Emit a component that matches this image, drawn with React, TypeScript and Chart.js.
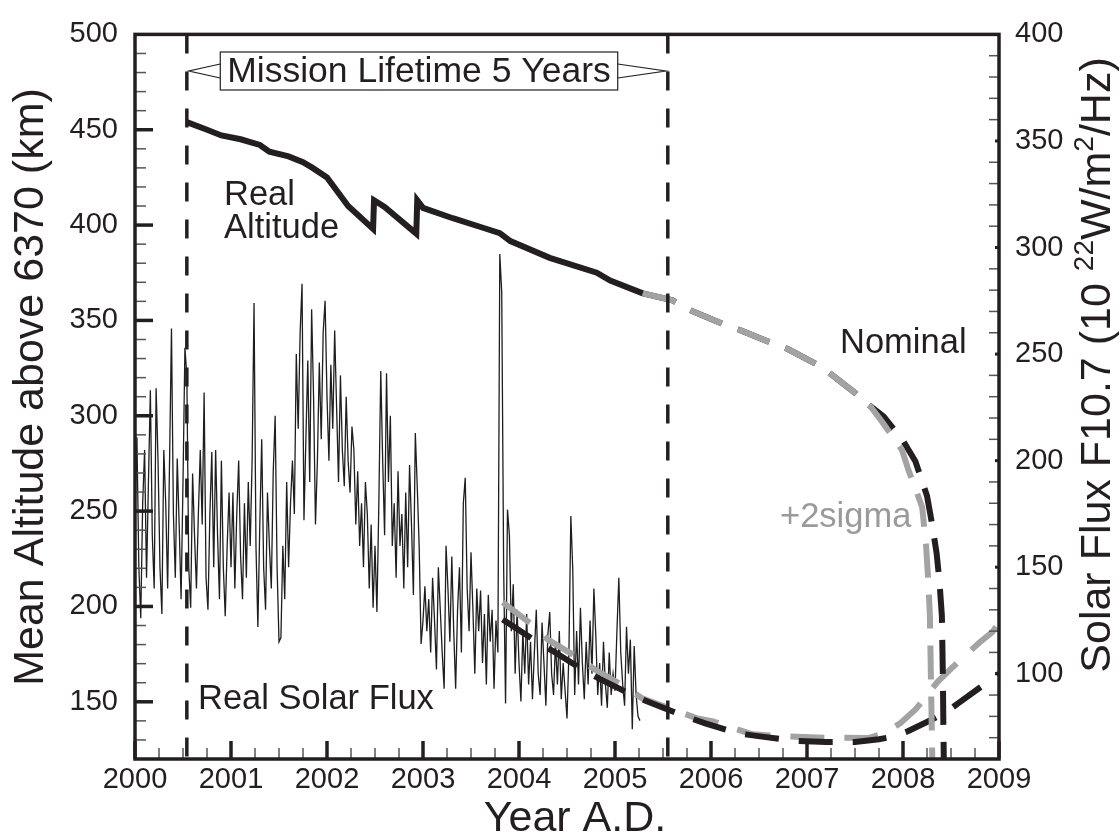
import React, { useEffect, useRef } from 'react';
import { Chart, registerables } from 'chart.js';

Chart.register(...registerables);

const FAMILY = '"Liberation Sans", Arial, Helvetica, sans-serif';
const INK = '#231f20';
const GRAY = '#a3a3a3';
const GRAY_TEXT = '#9a9a9a';

// Axis ticks
const X_TICKS = [2000, 2001, 2002, 2003, 2004, 2005, 2006, 2007, 2008, 2009];
const LEFT_TICKS = [150, 200, 250, 300, 350, 400, 450, 500];
const RIGHT_TICKS = [100, 150, 200, 250, 300, 350, 400];

// Mission lifetime boundaries (year)
const MISSION_YEARS = [2000.54, 2005.55];

// Real solar flux F10.7, sampled every 0.02 year from 2000.00
const FLUX_START = 2000.0;
const FLUX_STEP = 0.02;
const FLUX_VALUES = [
  // 2000
  175, 211, 150, 126, 180, 205, 145, 190, 233, 165,
  140, 234, 200, 150, 128, 205, 180, 140, 200, 262,
  175, 145, 201, 170, 135, 190, 253, 240, 150, 131,
  194, 165, 140, 175, 205, 170, 232, 145, 130, 175,
  204, 150, 205, 165, 135, 200, 150, 127, 160, 185,
  // 2001
  150, 185, 140, 175, 200, 155, 135, 180, 145, 190,
  160, 200, 274, 160, 122, 170, 210, 150, 130, 185,
  160, 140, 195, 221, 150, 115, 117, 160, 135, 190,
  150, 180, 200, 175, 250, 215, 260, 283, 172, 210,
  247, 190, 271, 230, 170, 200, 246, 210, 260, 275,
  // 2002
  230, 200, 245, 215, 261, 225, 190, 240, 205, 188,
  230, 200, 185, 216, 205, 170, 195, 160, 180, 150,
  190, 175, 140, 170, 131, 160, 129, 180, 242, 200,
  165, 241, 190, 221, 160, 180, 145, 195, 160, 175,
  140, 185, 150, 198, 170, 137, 213, 188, 160, 114,
  // 2003
  125, 141, 120, 135, 110, 145, 125, 102, 150, 130,
  110, 93, 160, 140, 115, 155, 120, 93, 130, 150,
  110, 180, 192, 140, 120, 157, 130, 100, 140, 120,
  139, 105, 128, 95, 137, 115, 130, 93, 125, 110,
  297, 279, 150, 86, 177, 165, 120, 142, 100, 130,
  // 2004
  105, 87, 120, 100, 128, 95, 115, 88, 110, 130,
  100, 90, 124, 105, 85, 118, 129, 100, 90, 115,
  95, 120, 88, 105, 92, 79, 110, 174, 149, 90,
  120, 95, 131, 105, 88, 115, 95, 125, 100, 140,
  118, 90, 105, 85, 115, 95, 84, 110, 90, 100,
  // 2005
  92, 120, 145, 110, 95, 85, 122, 100, 116, 74, 113, 90, 80, 78,
];

// Real altitude (km above 6370)
const ALT_YEARS = [
  2000.54, 2000.75, 2000.9, 2001.1, 2001.3, 2001.4, 2001.6, 2001.75, 2001.85, 2002.0,
  2002.22, 2002.48, 2002.49, 2002.6, 2002.93, 2002.94, 2003.0, 2003.31, 2003.6, 2003.8,
  2003.91, 2004.32, 2004.81, 2004.95, 2005.29,
];
const ALT_VALUES = [
  454, 450, 447, 445, 442, 438.5, 436, 433, 430, 425,
  410, 398, 413, 409.5, 395.5, 413, 409, 403.6, 399, 395.8,
  391.6, 382.8, 375, 370.9, 364.2,
];

// Predicted altitude, nominal
const ALT_NOM_YEARS = [
  2005.29, 2005.6, 2005.8, 2006.13, 2006.3, 2006.64, 2006.8, 2007.14, 2007.27, 2007.5,
  2007.66, 2007.8, 2008.0, 2008.13, 2008.25, 2008.3, 2008.35, 2008.38, 2008.405, 2008.415,
  2008.42, 2008.425,
];
const ALT_NOM_VALUES = [
  364.2, 360.5, 355, 348, 345, 338, 335, 326, 321, 312,
  305, 299.5, 287, 276, 258, 244, 228, 213, 195, 165,
  140, 120,
];

// Predicted altitude, +2 sigma
const ALT_2S_YEARS = [
  2005.29, 2005.6, 2005.8, 2006.13, 2006.3, 2006.64, 2006.8, 2007.14, 2007.27, 2007.5,
  2007.66, 2007.78, 2007.99, 2008.06, 2008.15, 2008.2, 2008.24, 2008.265, 2008.28, 2008.29,
  2008.3, 2008.305,
];
const ALT_2S_VALUES = [
  364.2, 360.5, 355, 348, 345, 338, 335, 326, 321, 312,
  305, 297, 282, 271, 259, 252, 232, 212, 195, 165,
  135, 120,
];

// Predicted solar flux, nominal
const FLUX_NOM_YEARS = [
  2003.83, 2004.15, 2004.34, 2004.66, 2004.84, 2005.18, 2005.39, 2005.73, 2005.94, 2006.28,
  2006.53, 2006.88, 2007.2, 2007.5, 2007.75, 2007.9, 2008.05, 2008.26, 2008.45, 2008.57,
  2008.77, 2009.0,
];
const FLUX_NOM_VALUES = [
  125.5, 116, 111, 102, 97.6, 90, 86, 80, 76.7, 72,
  70.5, 68.5, 68, 68, 69.3, 70.5, 73, 77.6, 82, 86,
  92.5, 100,
];

// Predicted solar flux, +2 sigma
const FLUX_2S_YEARS = [
  2003.83, 2004.14, 2004.3, 2004.6, 2004.79, 2005.1, 2005.29, 2005.57, 2005.86, 2006.02,
  2006.43, 2006.79, 2007.2, 2007.64, 2007.8, 2007.97, 2008.13, 2008.36, 2008.52, 2008.8,
  2008.93, 2009.0,
];
const FLUX_2S_VALUES = [
  133.5, 123, 116, 108, 102, 94, 88.3, 83.7, 79, 77.6,
  71.6, 70.6, 70, 69.8, 72, 76.7, 83.2, 96.2, 103.2, 114.8,
  119.5, 124,
];

const pts = (xs: number[], ys: number[]) => xs.map((x, i) => ({ x, y: ys[i] }));

const decorPlugin = {
  id: 'decor',
  afterDatasetsDraw(chart: any) {
    const ctx = chart.ctx as CanvasRenderingContext2D;
    const a = chart.chartArea;
    const xs = chart.scales.x;
    const yl = chart.scales.yL;
    const yr = chart.scales.yR;
    ctx.save();
    ctx.lineCap = 'butt';

    // bottom axis ticks (every quarter year, major each year)
    for (let i = 0; i <= 36; i++) {
      const v = 2000 + i * 0.25;
      const px = xs.getPixelForValue(v);
      const major = i % 4 === 0;
      ctx.strokeStyle = major ? INK : '#555';
      ctx.lineWidth = major ? 3.5 : 1.5;
      ctx.beginPath();
      ctx.moveTo(px, a.bottom);
      ctx.lineTo(px, a.bottom - (major ? 18 : 11));
      ctx.stroke();
    }
    // left axis ticks (every 10 km)
    for (let v = 130; v <= 490; v += 10) {
      const py = yl.getPixelForValue(v);
      const major = v % 50 === 0;
      ctx.strokeStyle = major ? INK : '#555';
      ctx.lineWidth = major ? 3.5 : 1.5;
      ctx.beginPath();
      ctx.moveTo(a.left, py);
      ctx.lineTo(a.left + (major ? 18 : 11), py);
      ctx.stroke();
    }
    // right axis ticks (every 10 flux units)
    for (let v = 70; v <= 390; v += 10) {
      const py = yr.getPixelForValue(v);
      const major = v % 50 === 0;
      ctx.strokeStyle = major ? INK : '#555';
      ctx.lineWidth = major ? 3 : 1.5;
      ctx.beginPath();
      ctx.moveTo(a.right, py);
      ctx.lineTo(a.right - (major ? 4 : 10), py);
      ctx.stroke();
    }

    // frame
    ctx.strokeStyle = INK;
    ctx.lineWidth = 3.5;
    ctx.lineJoin = 'miter';
    ctx.strokeRect(a.left, a.top, a.right - a.left, a.bottom - a.top);

    // Mission lifetime box with arrows
    const label = 'Mission Lifetime 5 Years';
    ctx.font = `35.5px ${FAMILY}`;
    const tw = ctx.measureText(label).width;
    const cx = 419;
    const cy = 71;
    const bx0 = cx - tw / 2 - 7;
    const bx1 = cx + tw / 2 + 7;
    const by0 = 52;
    const by1 = 90;
    ctx.fillStyle = '#fff';
    ctx.fillRect(bx0, by0, bx1 - bx0, by1 - by0);
    ctx.lineWidth = 1.2;
    ctx.strokeStyle = INK;
    ctx.strokeRect(bx0, by0, bx1 - bx0, by1 - by0);
    const lx = xs.getPixelForValue(MISSION_YEARS[0]) + 2;
    const rx = xs.getPixelForValue(MISSION_YEARS[1]) - 2;
    ctx.beginPath();
    ctx.moveTo(bx0, cy - 7);
    ctx.lineTo(lx, cy);
    ctx.lineTo(bx0, cy + 7);
    ctx.moveTo(bx1, cy - 7);
    ctx.lineTo(rx, cy);
    ctx.lineTo(bx1, cy + 7);
    ctx.stroke();
    ctx.fillStyle = INK;
    ctx.textAlign = 'center';
    ctx.textBaseline = 'middle';
    ctx.fillText(label, cx, cy + 1);

    // series annotations
    ctx.font = `34.5px ${FAMILY}`;
    ctx.textAlign = 'left';
    ctx.textBaseline = 'alphabetic';
    ctx.fillStyle = INK;
    ctx.fillText('Real', 224, 205);
    ctx.fillText('Altitude', 224, 238);
    ctx.fillText('Nominal', 840, 353);
    ctx.fillText('Real Solar Flux', 198, 709);
    ctx.fillStyle = GRAY_TEXT;
    ctx.fillText('+2sigma', 780, 527);

    // axis titles
    ctx.fillStyle = INK;
    ctx.font = `43px ${FAMILY}`;
    ctx.textAlign = 'center';
    ctx.fillText('Year A.D.', 575, 831);

    ctx.save();
    ctx.translate(43, 387);
    ctx.rotate(-Math.PI / 2);
    ctx.fillText('Mean Altitude above 6370 (km)', 0, 0);
    ctx.restore();

    // right title with superscripts
    const parts: [string, boolean][] = [
      ['Solar Flux F10.7 (10 ', false],
      ['22', true],
      ['W/m', false],
      ['2', true],
      ['/Hz)', false],
    ];
    const mainFont = `43px ${FAMILY}`;
    const supFont = `28px ${FAMILY}`;
    let total = 0;
    for (const [t, sup] of parts) {
      ctx.font = sup ? supFont : mainFont;
      total += ctx.measureText(t).width;
    }
    ctx.save();
    ctx.translate(1110, 365);
    ctx.rotate(-Math.PI / 2);
    ctx.textAlign = 'left';
    let xpos = -total / 2;
    for (const [t, sup] of parts) {
      ctx.font = sup ? supFont : mainFont;
      ctx.fillText(t, xpos, sup ? -17 : 0);
      xpos += ctx.measureText(t).width;
    }
    ctx.restore();

    ctx.restore();
  },
};

export default function App() {
  const ref = useRef<HTMLCanvasElement | null>(null);

  useEffect(() => {
    if (!ref.current) return;
    const fluxData = FLUX_VALUES.map((v, i) => ({ x: FLUX_START + i * FLUX_STEP, y: v }));
    const missionSet = (yr: number) => ({
      data: [
        { x: yr, y: 500 },
        { x: yr, y: 120 },
      ],
      yAxisID: 'yL',
      borderColor: INK,
      borderWidth: 3.5,
      borderDash: [19, 18],
      pointRadius: 0,
      fill: false,
    });
    const tickFont = { size: 29, family: FAMILY };
    const noGrid = { display: false, drawTicks: false, tickLength: 0 };
    const chart = new Chart(ref.current, {
      type: 'line',
      data: {
        datasets: [
          missionSet(MISSION_YEARS[0]),
          missionSet(MISSION_YEARS[1]),
          {
            label: '+2sigma altitude',
            data: pts(ALT_2S_YEARS, ALT_2S_VALUES),
            yAxisID: 'yL',
            borderColor: GRAY,
            borderWidth: 6,
            borderDash: [34, 17],
            pointRadius: 0,
          },
          {
            label: 'Nominal altitude',
            data: pts(ALT_NOM_YEARS, ALT_NOM_VALUES),
            yAxisID: 'yL',
            borderColor: INK,
            borderWidth: 6,
            borderDash: [34, 17],
            pointRadius: 0,
          },
          {
            label: 'Nominal flux',
            data: pts(FLUX_NOM_YEARS, FLUX_NOM_VALUES),
            yAxisID: 'yR',
            borderColor: INK,
            borderWidth: 6,
            borderDash: [34, 20],
            pointRadius: 0,
          },
          {
            label: '+2sigma flux',
            data: pts(FLUX_2S_YEARS, FLUX_2S_VALUES),
            yAxisID: 'yR',
            borderColor: GRAY,
            borderWidth: 6,
            borderDash: [34, 20],
            pointRadius: 0,
          },
          {
            label: 'Real Altitude',
            data: pts(ALT_YEARS, ALT_VALUES),
            yAxisID: 'yL',
            borderColor: INK,
            borderWidth: 6,
            borderJoinStyle: 'miter',
            pointRadius: 0,
          },
          {
            label: 'Real Solar Flux',
            data: fluxData,
            yAxisID: 'yR',
            borderColor: '#1e1e1e',
            borderWidth: 1.3,
            pointRadius: 0,
          },
        ],
      },
      options: {
        responsive: false,
        animation: false,
        events: [],
        layout: { padding: { top: 26, left: 0, right: 0, bottom: 0 } },
        plugins: {
          legend: { display: false },
          tooltip: { enabled: false },
        },
        elements: { line: { tension: 0 }, point: { radius: 0 } },
        scales: {
          x: {
            type: 'linear',
            position: 'bottom',
            min: 2000,
            max: 2009,
            grid: noGrid,
            border: { display: false },
            ticks: {
              font: tickFont,
              color: INK,
              padding: 4,
              maxRotation: 0,
              autoSkip: false,
              callback: (v: any) => String(v),
            },
            afterBuildTicks: (s: any) => {
              s.ticks = X_TICKS.map((v) => ({ value: v }));
            },
            afterFit: (s: any) => {
              s.height = 76;
            },
          },
          yL: {
            type: 'linear',
            position: 'left',
            min: 120,
            max: 500,
            grid: noGrid,
            border: { display: false },
            ticks: {
              font: tickFont,
              color: INK,
              padding: 17,
              autoSkip: false,
              callback: (v: any) => String(v),
            },
            afterBuildTicks: (s: any) => {
              s.ticks = LEFT_TICKS.map((v) => ({ value: v }));
            },
            afterFit: (s: any) => {
              s.width = 135;
            },
          },
          yR: {
            type: 'linear',
            position: 'right',
            min: 60,
            max: 400,
            grid: noGrid,
            border: { display: false },
            ticks: {
              font: tickFont,
              color: INK,
              padding: 16,
              autoSkip: false,
              callback: (v: any) => String(v),
            },
            afterBuildTicks: (s: any) => {
              s.ticks = RIGHT_TICKS.map((v) => ({ value: v }));
            },
            afterFit: (s: any) => {
              s.width = 121;
            },
          },
        },
      } as any,
      plugins: [decorPlugin],
    });
    return () => chart.destroy();
  }, []);

  return (
    <div style={{ position: 'absolute', left: 0, top: 0, width: 1120, height: 835, background: '#fff' }}>
      <canvas ref={ref} width={1120} height={835} style={{ display: 'block' }} />
    </div>
  );
}
